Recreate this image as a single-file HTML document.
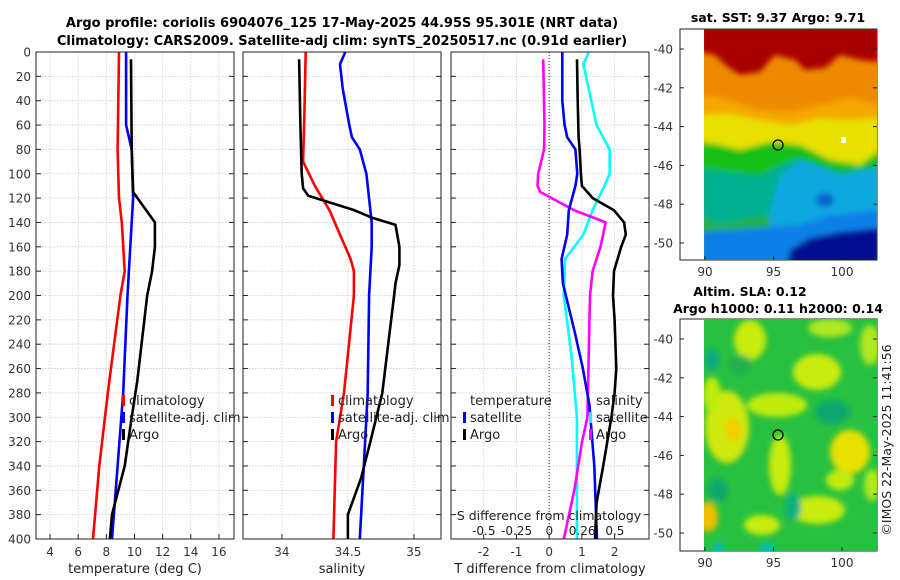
<!DOCTYPE html>
<html><head><meta charset="utf-8"><style>
body{margin:0;background:#fff}
svg{display:block;font-family:"DejaVu Sans","Liberation Sans",sans-serif}
</style></head><body>
<svg id="fig" width="900" height="580" viewBox="0 0 900 580" xmlns="http://www.w3.org/2000/svg">
<defs>
<filter id="bl" x="-20%" y="-20%" width="140%" height="140%"><feGaussianBlur stdDeviation="3"/></filter>
<filter id="bl2" x="-50%" y="-50%" width="200%" height="200%"><feGaussianBlur stdDeviation="3"/></filter>
<clipPath id="c1"><rect x="704" y="29" width="173" height="231"/></clipPath>
<clipPath id="c2"><rect x="704" y="319" width="173" height="232"/></clipPath>
</defs>
<text x="342" y="27" text-anchor="middle" font-size="13" font-weight="bold">Argo profile: coriolis 6904076_125 17-May-2025 44.95S 95.301E (NRT data)</text>
<text x="342" y="45" text-anchor="middle" font-size="13" font-weight="bold">Climatology: CARS2009. Satellite-adj clim: synTS_20250517.nc (0.91d earlier)</text>
<g id="charts"></g>
<g id="maps">
 <text x="778" y="22" text-anchor="middle" font-size="12.5" font-weight="bold">sat. SST: 9.37 Argo: 9.71</text>
 <rect x="680" y="29" width="197" height="231" fill="#fff" stroke="#222"/>
 <g clip-path="url(#c1)">
  <rect x="704" y="29" width="173" height="231" fill="#ee8a00"/>
  <g filter="url(#bl)">
  <path d="M700 25H880V62L860 60L840 55L825 68L805 70L795 60L775 55L760 72L740 75L725 65L715 55L700 52Z" fill="#a80000"/>
  <path d="M700 95L730 100L760 110L790 112L820 105L850 98L880 105V300H700Z" fill="#f5a800"/>
  <path d="M700 115L730 114L760 120L790 125L820 118L845 120L880 118V300H700Z" fill="#e8e000"/>
  <path d="M700 142L720 145L740 150L770 142L800 145L830 160L860 165L880 150V300H700Z" fill="#18c018"/>
  <path d="M700 168L730 172L760 175L780 165L800 158L840 172L880 165V300H700Z" fill="#00b090"/>
  <path d="M780 175L800 160L840 175L880 168V300H760L770 210Z" fill="#10a8e0"/>
  <path d="M700 215L720 225L740 220L770 215V300H700Z" fill="#20b050"/>
  <path d="M700 232L760 228L800 225L830 215L880 210V300H700Z" fill="#1080e8"/>
  <path d="M790 250L810 238L840 232L880 228V300H780Z" fill="#000a90"/>
  <ellipse cx="825" cy="200" rx="9" ry="7" fill="#0860d0"/>
  </g>
  <rect x="841" y="137" width="5" height="6" fill="#fff"/>
 </g>
 <circle cx="778" cy="145" r="5" fill="none" stroke="#000" stroke-width="1.3"/>
 <text x="750" y="296" text-anchor="middle" font-size="12.5" font-weight="bold">Altim. SLA: 0.12</text>
 <text x="778" y="313" text-anchor="middle" font-size="12.5" font-weight="bold">Argo h1000: 0.11 h2000: 0.14</text>
 <rect x="680" y="319" width="197" height="232" fill="#fff" stroke="#222"/>
 <g clip-path="url(#c2)">
  <rect x="704" y="319" width="173" height="232" fill="#28c040"/>
  <g filter="url(#bl2)">
   <ellipse cx="750" cy="340" rx="16" ry="20" fill="#c8ec10"/>
   <ellipse cx="830" cy="328" rx="22" ry="9" fill="#b0e820"/>
   <ellipse cx="817" cy="372" rx="24" ry="18" fill="#c8ec10"/>
   <ellipse cx="870" cy="345" rx="10" ry="20" fill="#b0e820"/>
   <ellipse cx="727" cy="427" rx="22" ry="36" fill="#d0e810"/>
   <ellipse cx="712" cy="395" rx="9" ry="18" fill="#c0ec10"/>
   <ellipse cx="733" cy="430" rx="8" ry="12" fill="#f0d000"/>
   <ellipse cx="777" cy="405" rx="30" ry="12" fill="#c0ec10"/>
   <ellipse cx="780" cy="465" rx="11" ry="30" fill="#c8ec10"/>
   <ellipse cx="850" cy="452" rx="20" ry="22" fill="#e8e000"/>
   <ellipse cx="840" cy="480" rx="14" ry="10" fill="#c0ec10"/>
   <ellipse cx="817" cy="510" rx="28" ry="14" fill="#c8ec10"/>
   <ellipse cx="708" cy="517" rx="10" ry="15" fill="#f0c000"/>
   <ellipse cx="762" cy="525" rx="18" ry="10" fill="#c8ec10"/>
   <ellipse cx="872" cy="485" rx="8" ry="16" fill="#b0e820"/>
   <ellipse cx="712" cy="360" rx="7" ry="12" fill="#10a880"/>
   <ellipse cx="832" cy="412" rx="18" ry="12" fill="#10a870"/>
   <ellipse cx="793" cy="507" rx="8" ry="14" fill="#10b080"/>
   <ellipse cx="718" cy="490" rx="10" ry="12" fill="#10a870"/>
   <ellipse cx="767" cy="548" rx="8" ry="5" fill="#00c0c0"/>
   <ellipse cx="718" cy="548" rx="6" ry="5" fill="#00c0c0"/>
   <ellipse cx="740" cy="365" rx="12" ry="10" fill="#20b050"/>
  </g>
 </g>
 <circle cx="778" cy="435" r="5" fill="none" stroke="#000" stroke-width="1.3"/>
 <text transform="translate(891,440) rotate(-90)" text-anchor="middle" font-size="12.5" fill="#222">©IMOS 22-May-2025 11:41:56</text>
</g>
</svg>
<script>
// ---- data ----
var tempClimDepth=[0,80,120,140,180,200,280,340,400];
var tempClim=[8.9,8.8,8.9,9.1,9.3,9.0,8.1,7.5,7.05];
var tempSatDepth=[0,60,80,120,200,280,400];
var tempSat=[9.4,9.4,9.8,9.9,9.5,9.2,8.4];
var tempArgoDepth=[6,80,115,140,160,180,200,270,300,340,380,400];
var tempArgo=[9.75,9.8,9.9,11.45,11.45,11.25,10.9,10.2,9.8,9.3,8.4,8.25];
var salClimDepth=[0,50,90,110,130,150,170,180,200,280,320,400];
var salClim=[34.18,34.17,34.16,34.25,34.36,34.44,34.52,34.545,34.545,34.47,34.41,34.39];
var salSatDepth=[0,10,30,60,70,80,100,140,160,200,280,340,400];
var salSat=[34.48,34.44,34.46,34.51,34.53,34.59,34.64,34.68,34.68,34.66,34.65,34.62,34.59];
var salArgoDepth=[6,60,100,112,118,130,136,142,160,175,190,200,280,320,350,380,400];
var salArgo=[34.13,34.14,34.15,34.16,34.2,34.55,34.68,34.86,34.89,34.89,34.86,34.85,34.76,34.67,34.6,34.5,34.5];
var dTSatDepth=[0,40,60,70,80,100,110,130,150,170,190,230,260,290,340,400];
var dTSat=[0.4,0.4,0.47,0.55,0.8,0.86,0.8,0.6,0.55,0.38,0.42,0.78,1.03,1.23,1.38,1.46];
var dTArgoDepth=[6,40,70,80,100,110,120,130,140,150,160,180,200,220,260,280,300,340,370,400];
var dTArgo=[0.85,0.87,0.9,0.93,0.97,1.0,1.33,1.98,2.29,2.34,2.2,1.98,1.95,2.0,2.05,2.0,1.9,1.65,1.45,1.4];
var dSArgoDepth=[6,60,80,100,110,115,130,140,160,180,200,250,300,320,360,400];
var dSArgo=[-0.047,-0.037,-0.04,-0.085,-0.09,-0.07,0.19,0.43,0.39,0.33,0.31,0.3,0.29,0.25,0.19,0.11];
var dSSatDepth=[0,10,60,80,100,110,130,150,170,200,250,300,400];
var dSSat=[0.3,0.26,0.36,0.46,0.46,0.42,0.33,0.26,0.12,0.11,0.17,0.21,0.21];
var depthTicks=[0,20,40,60,80,100,120,140,160,180,200,220,240,260,280,300,320,340,360,380,400];
var tempTicks=[4,6,8,10,12,14,16];
var salTicks=[34,34.5,35];
var salTickLabels=["34","34.5","35"];
var dTTicks=[-2,-1,0,1,2];
var dSTicks=[-0.5,-0.25,0,0.25,0.5];
var dSTickLabels=["-0.5","-0.25","0","0.26","0.5"];
var latTicks=[-40,-42,-44,-46,-48,-50];
var lonTicks=[90,95,100];

var NS="http://www.w3.org/2000/svg";
var root=document.getElementById('charts');
function mk(tag,attrs,parent){var e=document.createElementNS(NS,tag);for(var k in attrs)e.setAttribute(k,attrs[k]);(parent||root).appendChild(e);return e;}
var Y0=52,Y1=539;
function yD(d){return Y0+d*(Y1-Y0)/400;}
function lin(d0,d1,r0,r1){return function(v){return r0+(v-d0)*(r1-r0)/(d1-d0);};}
var panels=[
 {x0:36,x1:234,sx:lin(3,17.07,36,234),ticks:tempTicks,labels:tempTicks.map(String),label:"temperature (deg C)",name:"temperature-panel"},
 {x0:243,x1:441,sx:lin(33.705,35.205,243,441),ticks:salTicks,labels:salTickLabels,label:"salinity",name:"salinity-panel"},
 {x0:451,x1:649,sx:lin(-3,3.05,451,649),ticks:dTTicks,labels:dTTicks.map(String),label:"T difference from climatology",name:"difference-panel"}
];
var sS=lin(-0.75,0.76,451,649);
panels.forEach(function(p,pi){
 var g=mk('g',{});
 
 
 depthTicks.forEach(function(d){
  var l=mk('line',{x1:p.x0,x2:p.x1,y1:yD(d),y2:yD(d),stroke:'#c4c8e8','stroke-width':0.8,'stroke-dasharray':'1.5,1.5'},g);
  
  
  mk('line',{x1:p.x0,x2:p.x0+5,y1:yD(d),y2:yD(d),stroke:'#222'},g);
  mk('line',{x1:p.x1-5,x2:p.x1,y1:yD(d),y2:yD(d),stroke:'#222'},g);
  if(pi==0){var t=mk('text',{x:31,y:yD(d)+4.5,'text-anchor':'end','font-size':12,fill:'#333'},g);t.textContent=d;
   
   }
 });
 p.ticks.forEach(function(v,i){
  var x=p.sx(v);
  var l=mk('line',{x1:x,x2:x,y1:Y0,y2:Y1,stroke:'#e8c8b0','stroke-width':0.8,'stroke-dasharray':'1.5,1.5'},g);
  
  
  mk('line',{x1:x,x2:x,y1:Y1-5,y2:Y1,stroke:'#222'},g);
  var t=mk('text',{x:x,y:556,'text-anchor':'middle','font-size':12,fill:'#333'},g);t.textContent=p.labels[i];
  
  
 });
 var t=mk('text',{x:(p.x0+p.x1)/2,y:573,'text-anchor':'middle','font-size':13,fill:'#222'},g);t.textContent=p.label;
 
 
});
var z=mk('line',{x1:panels[2].sx(0),x2:panels[2].sx(0),y1:Y0,y2:Y1,stroke:'#333','stroke-dasharray':'1,2'});


function series(xs,ds,sx,color,name){
 var pts=xs.map(function(v,i){return sx(v).toFixed(1)+','+yD(ds[i]).toFixed(1);}).join(' ');
 var pl=mk('polyline',{points:pts,fill:'none',stroke:color,'stroke-width':2.6,'stroke-linejoin':'round'});
 
 
}
series(tempClim,tempClimDepth,panels[0].sx,'#f00','temp-climatology-line');
series(tempSat,tempSatDepth,panels[0].sx,'#00f','temp-satellite-line');
series(tempArgo,tempArgoDepth,panels[0].sx,'#000','temp-argo-line');
series(salClim,salClimDepth,panels[1].sx,'#f00','sal-climatology-line');
series(salSat,salSatDepth,panels[1].sx,'#00f','sal-satellite-line');
series(salArgo,salArgoDepth,panels[1].sx,'#000','sal-argo-line');
series(dSSat,dSSatDepth,sS,'#0ff','sdiff-satellite-line');
series(dSArgo,dSArgoDepth,sS,'#f0f','sdiff-argo-line');
series(dTSat,dTSatDepth,panels[2].sx,'#00f','tdiff-satellite-line');
series(dTArgo,dTArgoDepth,panels[2].sx,'#000','tdiff-argo-line');
panels.forEach(function(p){
 var r=mk('rect',{x:p.x0,y:Y0,width:p.x1-p.x0,height:Y1-Y0,fill:'none',stroke:'#222'});
 
 
});
var st=mk('text',{x:549,y:520,'text-anchor':'middle','font-size':12.5,fill:'#222'});st.textContent='S difference from climatology';


dSTicks.forEach(function(v,i){
 var t=mk('text',{x:sS(v),y:535,'text-anchor':'middle','font-size':12,fill:'#222'});t.textContent=dSTickLabels[i];
 
 
});
function legend(x,y,color,label){
 if(color){var b=mk('rect',{x:x-7,y:y-10,width:3,height:11,fill:color});
  
  }
 var t=mk('text',{x:x,y:y,'font-size':13,fill:'#222'});t.textContent=label;
 
 
}
legend(129,405,'#f00','climatology');legend(129,422,'#00f','satellite-adj. clim');legend(129,439,'#000','Argo');
legend(338,405,'#f00','climatology');legend(338,422,'#00f','satellite-adj. clim');legend(338,439,'#000','Argo');
legend(470,405,null,'temperature');legend(470,422,'#00f','satellite');legend(470,439,'#000','Argo');
legend(596,405,null,'salinity');legend(596,422,'#0ff','satellite');legend(596,439,'#f0f','Argo');
var maps=[{lat:lin(-40,-50,49,243),top:29,bot:260,lab:276},{lat:lin(-40,-50,339,533),top:319,bot:551,lab:567}];
var lonX=lin(90,100,705,842);
var mg=document.getElementById('maps');
maps.forEach(function(m){
 latTicks.forEach(function(v){
  var y=m.lat(v);
  mk('line',{x1:680,x2:684,y1:y,y2:y,stroke:'#222'},mg);
  mk('line',{x1:873,x2:877,y1:y,y2:y,stroke:'#222'},mg);
  var t=mk('text',{x:673,y:y+4.5,'text-anchor':'end','font-size':12,fill:'#333'},mg);t.textContent=v;
  
  
 });
 lonTicks.forEach(function(v){
  var x=lonX(v);
  mk('line',{x1:x,x2:x,y1:m.bot-4,y2:m.bot,stroke:'#222'},mg);
  var t=mk('text',{x:x,y:m.lab,'text-anchor':'middle','font-size':12,fill:'#333'},mg);t.textContent=v;
  
  
 });
});
</script>
</body></html>
